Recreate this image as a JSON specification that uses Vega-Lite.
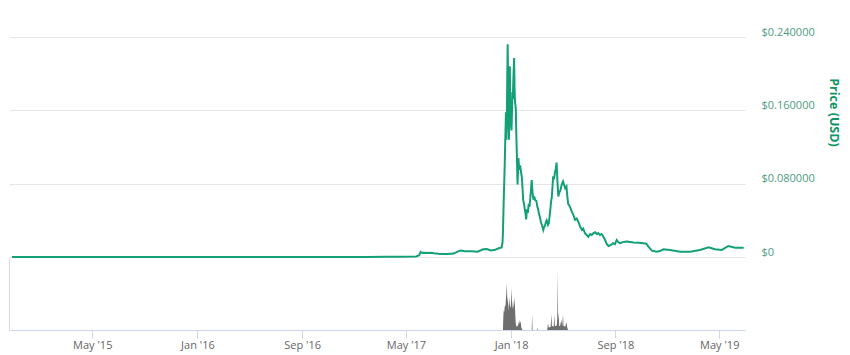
{
  "$schema": "https://vega.github.io/schema/vega-lite/v6.json",
  "width": 736,
  "height": 293,
  "autosize": {"type": "none"},
  "padding": {"left": 9, "top": 37, "right": 105, "bottom": 25},
  "background": "white",
  "config": {"view": {"stroke": null}, "font": "Open Sans"},
  "datasets": {
    "price": [
      {"date": "2014-10-26", "price": 0.0001},
      {"date": "2014-12-15", "price": 0.0001},
      {"date": "2015-02-01", "price": 0.00005},
      {"date": "2015-04-01", "price": 0.00004},
      {"date": "2015-06-01", "price": 0.00003},
      {"date": "2015-08-01", "price": 0.00003},
      {"date": "2015-10-01", "price": 0.00002},
      {"date": "2015-12-01", "price": 0.00003},
      {"date": "2016-02-01", "price": 0.00006},
      {"date": "2016-04-01", "price": 0.00004},
      {"date": "2016-06-01", "price": 0.00003},
      {"date": "2016-08-01", "price": 0.00002},
      {"date": "2016-10-01", "price": 0.00002},
      {"date": "2016-12-01", "price": 0.00003},
      {"date": "2017-02-01", "price": 0.0001},
      {"date": "2017-03-15", "price": 0.0002},
      {"date": "2017-04-15", "price": 0.0003},
      {"date": "2017-05-25", "price": 0.0006},
      {"date": "2017-06-01", "price": 0.002},
      {"date": "2017-06-04", "price": 0.0055},
      {"date": "2017-06-08", "price": 0.0044},
      {"date": "2017-06-12", "price": 0.0047},
      {"date": "2017-06-20", "price": 0.0043},
      {"date": "2017-06-28", "price": 0.0046},
      {"date": "2017-07-05", "price": 0.0040},
      {"date": "2017-07-15", "price": 0.0036},
      {"date": "2017-07-25", "price": 0.0034},
      {"date": "2017-08-05", "price": 0.0033},
      {"date": "2017-08-20", "price": 0.0037},
      {"date": "2017-09-01", "price": 0.0064},
      {"date": "2017-09-06", "price": 0.0070},
      {"date": "2017-09-15", "price": 0.0062},
      {"date": "2017-10-01", "price": 0.0064},
      {"date": "2017-10-15", "price": 0.0057},
      {"date": "2017-10-28", "price": 0.0084},
      {"date": "2017-11-05", "price": 0.0086},
      {"date": "2017-11-15", "price": 0.0071},
      {"date": "2017-11-25", "price": 0.0078},
      {"date": "2017-12-03", "price": 0.0095},
      {"date": "2017-12-10", "price": 0.0105},
      {"date": "2017-12-12", "price": 0.016},
      {"date": "2017-12-13", "price": 0.027},
      {"date": "2017-12-15", "price": 0.066},
      {"date": "2017-12-17", "price": 0.098},
      {"date": "2017-12-18", "price": 0.12},
      {"date": "2017-12-20", "price": 0.158},
      {"date": "2017-12-21", "price": 0.128},
      {"date": "2017-12-22", "price": 0.145},
      {"date": "2017-12-23", "price": 0.196},
      {"date": "2017-12-24", "price": 0.232},
      {"date": "2017-12-25", "price": 0.19},
      {"date": "2017-12-26", "price": 0.152},
      {"date": "2017-12-27", "price": 0.128},
      {"date": "2017-12-28", "price": 0.17},
      {"date": "2017-12-29", "price": 0.208},
      {"date": "2017-12-30", "price": 0.165},
      {"date": "2017-12-31", "price": 0.15},
      {"date": "2018-01-02", "price": 0.138},
      {"date": "2018-01-04", "price": 0.18},
      {"date": "2018-01-05", "price": 0.172},
      {"date": "2018-01-06", "price": 0.19},
      {"date": "2018-01-08", "price": 0.217},
      {"date": "2018-01-09", "price": 0.185},
      {"date": "2018-01-10", "price": 0.17},
      {"date": "2018-01-12", "price": 0.161},
      {"date": "2018-01-13", "price": 0.135},
      {"date": "2018-01-14", "price": 0.119},
      {"date": "2018-01-16", "price": 0.079},
      {"date": "2018-01-17", "price": 0.092},
      {"date": "2018-01-18", "price": 0.108},
      {"date": "2018-01-20", "price": 0.095},
      {"date": "2018-01-22", "price": 0.10},
      {"date": "2018-01-24", "price": 0.093},
      {"date": "2018-01-26", "price": 0.087},
      {"date": "2018-01-28", "price": 0.072},
      {"date": "2018-01-29", "price": 0.0625},
      {"date": "2018-01-31", "price": 0.058},
      {"date": "2018-02-02", "price": 0.052},
      {"date": "2018-02-04", "price": 0.046},
      {"date": "2018-02-05", "price": 0.041},
      {"date": "2018-02-07", "price": 0.052},
      {"date": "2018-02-09", "price": 0.048},
      {"date": "2018-02-11", "price": 0.058},
      {"date": "2018-02-13", "price": 0.055},
      {"date": "2018-02-15", "price": 0.066},
      {"date": "2018-02-17", "price": 0.078},
      {"date": "2018-02-18", "price": 0.084},
      {"date": "2018-02-20", "price": 0.07},
      {"date": "2018-02-22", "price": 0.0625},
      {"date": "2018-02-24", "price": 0.066},
      {"date": "2018-02-26", "price": 0.062},
      {"date": "2018-03-01", "price": 0.061},
      {"date": "2018-03-03", "price": 0.055},
      {"date": "2018-03-05", "price": 0.052},
      {"date": "2018-03-07", "price": 0.047},
      {"date": "2018-03-09", "price": 0.044},
      {"date": "2018-03-11", "price": 0.039},
      {"date": "2018-03-13", "price": 0.036},
      {"date": "2018-03-15", "price": 0.033},
      {"date": "2018-03-17", "price": 0.0296},
      {"date": "2018-03-19", "price": 0.033},
      {"date": "2018-03-21", "price": 0.034},
      {"date": "2018-03-23", "price": 0.038},
      {"date": "2018-03-25", "price": 0.040},
      {"date": "2018-03-28", "price": 0.035},
      {"date": "2018-03-30", "price": 0.037},
      {"date": "2018-04-02", "price": 0.05},
      {"date": "2018-04-04", "price": 0.06},
      {"date": "2018-04-06", "price": 0.066},
      {"date": "2018-04-09", "price": 0.088},
      {"date": "2018-04-11", "price": 0.085},
      {"date": "2018-04-13", "price": 0.092},
      {"date": "2018-04-15", "price": 0.096},
      {"date": "2018-04-17", "price": 0.103},
      {"date": "2018-04-19", "price": 0.082},
      {"date": "2018-04-21", "price": 0.066},
      {"date": "2018-04-23", "price": 0.07},
      {"date": "2018-04-26", "price": 0.073},
      {"date": "2018-04-29", "price": 0.079},
      {"date": "2018-05-02", "price": 0.0825},
      {"date": "2018-05-05", "price": 0.078},
      {"date": "2018-05-07", "price": 0.075},
      {"date": "2018-05-10", "price": 0.077},
      {"date": "2018-05-12", "price": 0.066},
      {"date": "2018-05-14", "price": 0.058},
      {"date": "2018-05-18", "price": 0.055},
      {"date": "2018-05-22", "price": 0.050},
      {"date": "2018-05-26", "price": 0.046},
      {"date": "2018-05-30", "price": 0.0405},
      {"date": "2018-06-03", "price": 0.042},
      {"date": "2018-06-07", "price": 0.038},
      {"date": "2018-06-11", "price": 0.033},
      {"date": "2018-06-15", "price": 0.0296},
      {"date": "2018-06-18", "price": 0.031},
      {"date": "2018-06-22", "price": 0.026},
      {"date": "2018-06-26", "price": 0.024},
      {"date": "2018-06-30", "price": 0.022},
      {"date": "2018-07-04", "price": 0.025},
      {"date": "2018-07-08", "price": 0.024},
      {"date": "2018-07-12", "price": 0.026},
      {"date": "2018-07-16", "price": 0.027},
      {"date": "2018-07-20", "price": 0.025},
      {"date": "2018-07-23", "price": 0.026},
      {"date": "2018-07-27", "price": 0.024},
      {"date": "2018-07-31", "price": 0.025},
      {"date": "2018-08-04", "price": 0.022},
      {"date": "2018-08-08", "price": 0.0186},
      {"date": "2018-08-12", "price": 0.014},
      {"date": "2018-08-16", "price": 0.012},
      {"date": "2018-08-21", "price": 0.013},
      {"date": "2018-08-27", "price": 0.015},
      {"date": "2018-08-31", "price": 0.014},
      {"date": "2018-09-04", "price": 0.0186},
      {"date": "2018-09-08", "price": 0.016},
      {"date": "2018-09-12", "price": 0.015},
      {"date": "2018-09-20", "price": 0.0165},
      {"date": "2018-09-28", "price": 0.0168},
      {"date": "2018-10-13", "price": 0.0157},
      {"date": "2018-10-25", "price": 0.0155},
      {"date": "2018-11-05", "price": 0.015},
      {"date": "2018-11-12", "price": 0.0145},
      {"date": "2018-11-17", "price": 0.0113},
      {"date": "2018-11-25", "price": 0.0069},
      {"date": "2018-12-06", "price": 0.0058},
      {"date": "2018-12-14", "price": 0.0065},
      {"date": "2018-12-22", "price": 0.0084},
      {"date": "2019-01-06", "price": 0.0077},
      {"date": "2019-01-30", "price": 0.0058},
      {"date": "2019-02-22", "price": 0.0058},
      {"date": "2019-03-17", "price": 0.0077},
      {"date": "2019-04-06", "price": 0.0106},
      {"date": "2019-04-21", "price": 0.0084},
      {"date": "2019-05-07", "price": 0.0077},
      {"date": "2019-05-22", "price": 0.012},
      {"date": "2019-06-07", "price": 0.0102},
      {"date": "2019-06-27", "price": 0.0100}
    ],
    "volume": [
      {"date": "2017-12-13", "volume": 0},
      {"date": "2017-12-14", "volume": 150},
      {"date": "2017-12-15", "volume": 200},
      {"date": "2017-12-16", "volume": 180},
      {"date": "2017-12-17", "volume": 230},
      {"date": "2017-12-19", "volume": 250},
      {"date": "2017-12-21", "volume": 380},
      {"date": "2017-12-22", "volume": 467},
      {"date": "2017-12-23", "volume": 330},
      {"date": "2017-12-24", "volume": 300},
      {"date": "2017-12-25", "volume": 267},
      {"date": "2017-12-26", "volume": 200},
      {"date": "2017-12-28", "volume": 330},
      {"date": "2017-12-29", "volume": 250},
      {"date": "2017-12-31", "volume": 220},
      {"date": "2018-01-01", "volume": 300},
      {"date": "2018-01-02", "volume": 417},
      {"date": "2018-01-03", "volume": 300},
      {"date": "2018-01-05", "volume": 210},
      {"date": "2018-01-07", "volume": 250},
      {"date": "2018-01-08", "volume": 330},
      {"date": "2018-01-09", "volume": 280},
      {"date": "2018-01-10", "volume": 240},
      {"date": "2018-01-11", "volume": 120},
      {"date": "2018-01-12", "volume": 60},
      {"date": "2018-01-14", "volume": 30},
      {"date": "2018-01-16", "volume": 40},
      {"date": "2018-01-18", "volume": 60},
      {"date": "2018-01-20", "volume": 100},
      {"date": "2018-01-21", "volume": 60},
      {"date": "2018-01-23", "volume": 90},
      {"date": "2018-01-25", "volume": 20},
      {"date": "2018-01-28", "volume": 0},
      {"date": "2018-02-18", "volume": 0},
      {"date": "2018-02-19", "volume": 160},
      {"date": "2018-02-20", "volume": 0},
      {"date": "2018-03-02", "volume": 0},
      {"date": "2018-03-03", "volume": 27},
      {"date": "2018-03-04", "volume": 0},
      {"date": "2018-03-26", "volume": 0},
      {"date": "2018-03-28", "volume": 67},
      {"date": "2018-03-30", "volume": 20},
      {"date": "2018-04-01", "volume": 30},
      {"date": "2018-04-03", "volume": 30},
      {"date": "2018-04-05", "volume": 160},
      {"date": "2018-04-06", "volume": 40},
      {"date": "2018-04-08", "volume": 40},
      {"date": "2018-04-10", "volume": 30},
      {"date": "2018-04-12", "volume": 150},
      {"date": "2018-04-13", "volume": 40},
      {"date": "2018-04-16", "volume": 40},
      {"date": "2018-04-18", "volume": 60},
      {"date": "2018-04-19", "volume": 593},
      {"date": "2018-04-20", "volume": 90},
      {"date": "2018-04-22", "volume": 180},
      {"date": "2018-04-23", "volume": 40},
      {"date": "2018-04-25", "volume": 40},
      {"date": "2018-04-28", "volume": 100},
      {"date": "2018-04-30", "volume": 40},
      {"date": "2018-05-02", "volume": 160},
      {"date": "2018-05-03", "volume": 40},
      {"date": "2018-05-05", "volume": 40},
      {"date": "2018-05-07", "volume": 30},
      {"date": "2018-05-10", "volume": 80},
      {"date": "2018-05-12", "volume": 20},
      {"date": "2018-05-14", "volume": 0}
    ]
  },
  "encoding": {
    "x": {
      "field": "date",
      "type": "temporal",
      "scale": {
        "type": "utc",
        "domain": [
          {"year": 2014, "month": 10, "date": 19, "utc": true},
          {"year": 2019, "month": 6, "date": 30, "utc": true}
        ]
      },
      "axis": {
        "values": [
          {"year": 2015, "month": 5, "date": 1, "utc": true},
          {"year": 2016, "month": 1, "date": 1, "utc": true},
          {"year": 2016, "month": 9, "date": 1, "utc": true},
          {"year": 2017, "month": 5, "date": 1, "utc": true},
          {"year": 2018, "month": 1, "date": 1, "utc": true},
          {"year": 2018, "month": 9, "date": 1, "utc": true},
          {"year": 2019, "month": 5, "date": 1, "utc": true}
        ],
        "labelExpr": "utcFormat(datum.value, \"%b '%y\")",
        "title": null,
        "grid": false,
        "domainColor": "#ccd6eb",
        "tickColor": "#ccd6eb",
        "tickSize": 8,
        "labelPadding": 1,
        "labelFont": "Open Sans",
        "labelFontSize": 11,
        "labelColor": "#666666"
      }
    }
  },
  "layer": [
    {
      "data": {"name": "volume"},
      "mark": {"type": "area", "color": "#6e6e6e", "interpolate": "linear"},
      "encoding": {
        "y": {
          "field": "volume",
          "type": "quantitative",
          "scale": {"domain": [0, 720], "range": [293, 221], "nice": false},
          "axis": {
            "orient": "left",
            "title": null,
            "labels": false,
            "ticks": false,
            "grid": false,
            "domain": true,
            "domainColor": "#d8d8d8"
          }
        }
      }
    },
    {
      "data": {"name": "price"},
      "mark": {"type": "line", "color": "#14a077", "strokeWidth": 2, "interpolate": "linear"},
      "encoding": {
        "y": {
          "field": "price",
          "type": "quantitative",
          "scale": {"domain": [0, 0.24], "range": [220, 0], "nice": false},
          "axis": {
            "orient": "right",
            "values": [0, 0.08, 0.16, 0.24],
            "labelExpr": "datum.value == 0 ? '$0' : '$' + format(datum.value, '.6f')",
            "grid": true,
            "gridColor": "#e6e6e6",
            "domain": false,
            "ticks": false,
            "labelPadding": 16,
            "labelOffset": -5,
            "labelAlign": "left",
            "labelFont": "Open Sans",
            "labelFontSize": 11,
            "labelColor": "#4e9c80",
            "title": "Price (USD)",
            "titleFont": "Open Sans",
            "titleFontSize": 12.5,
            "titleFontWeight": "bold",
            "titleColor": "#119467",
            "titleAngle": 90,
            "titleX": 84,
            "titleY": 75,
            "titleAlign": "center",
            "titleBaseline": "alphabetic"
          }
        }
      }
    }
  ],
  "resolve": {"scale": {"y": "independent"}, "axis": {"y": "independent"}}
}
